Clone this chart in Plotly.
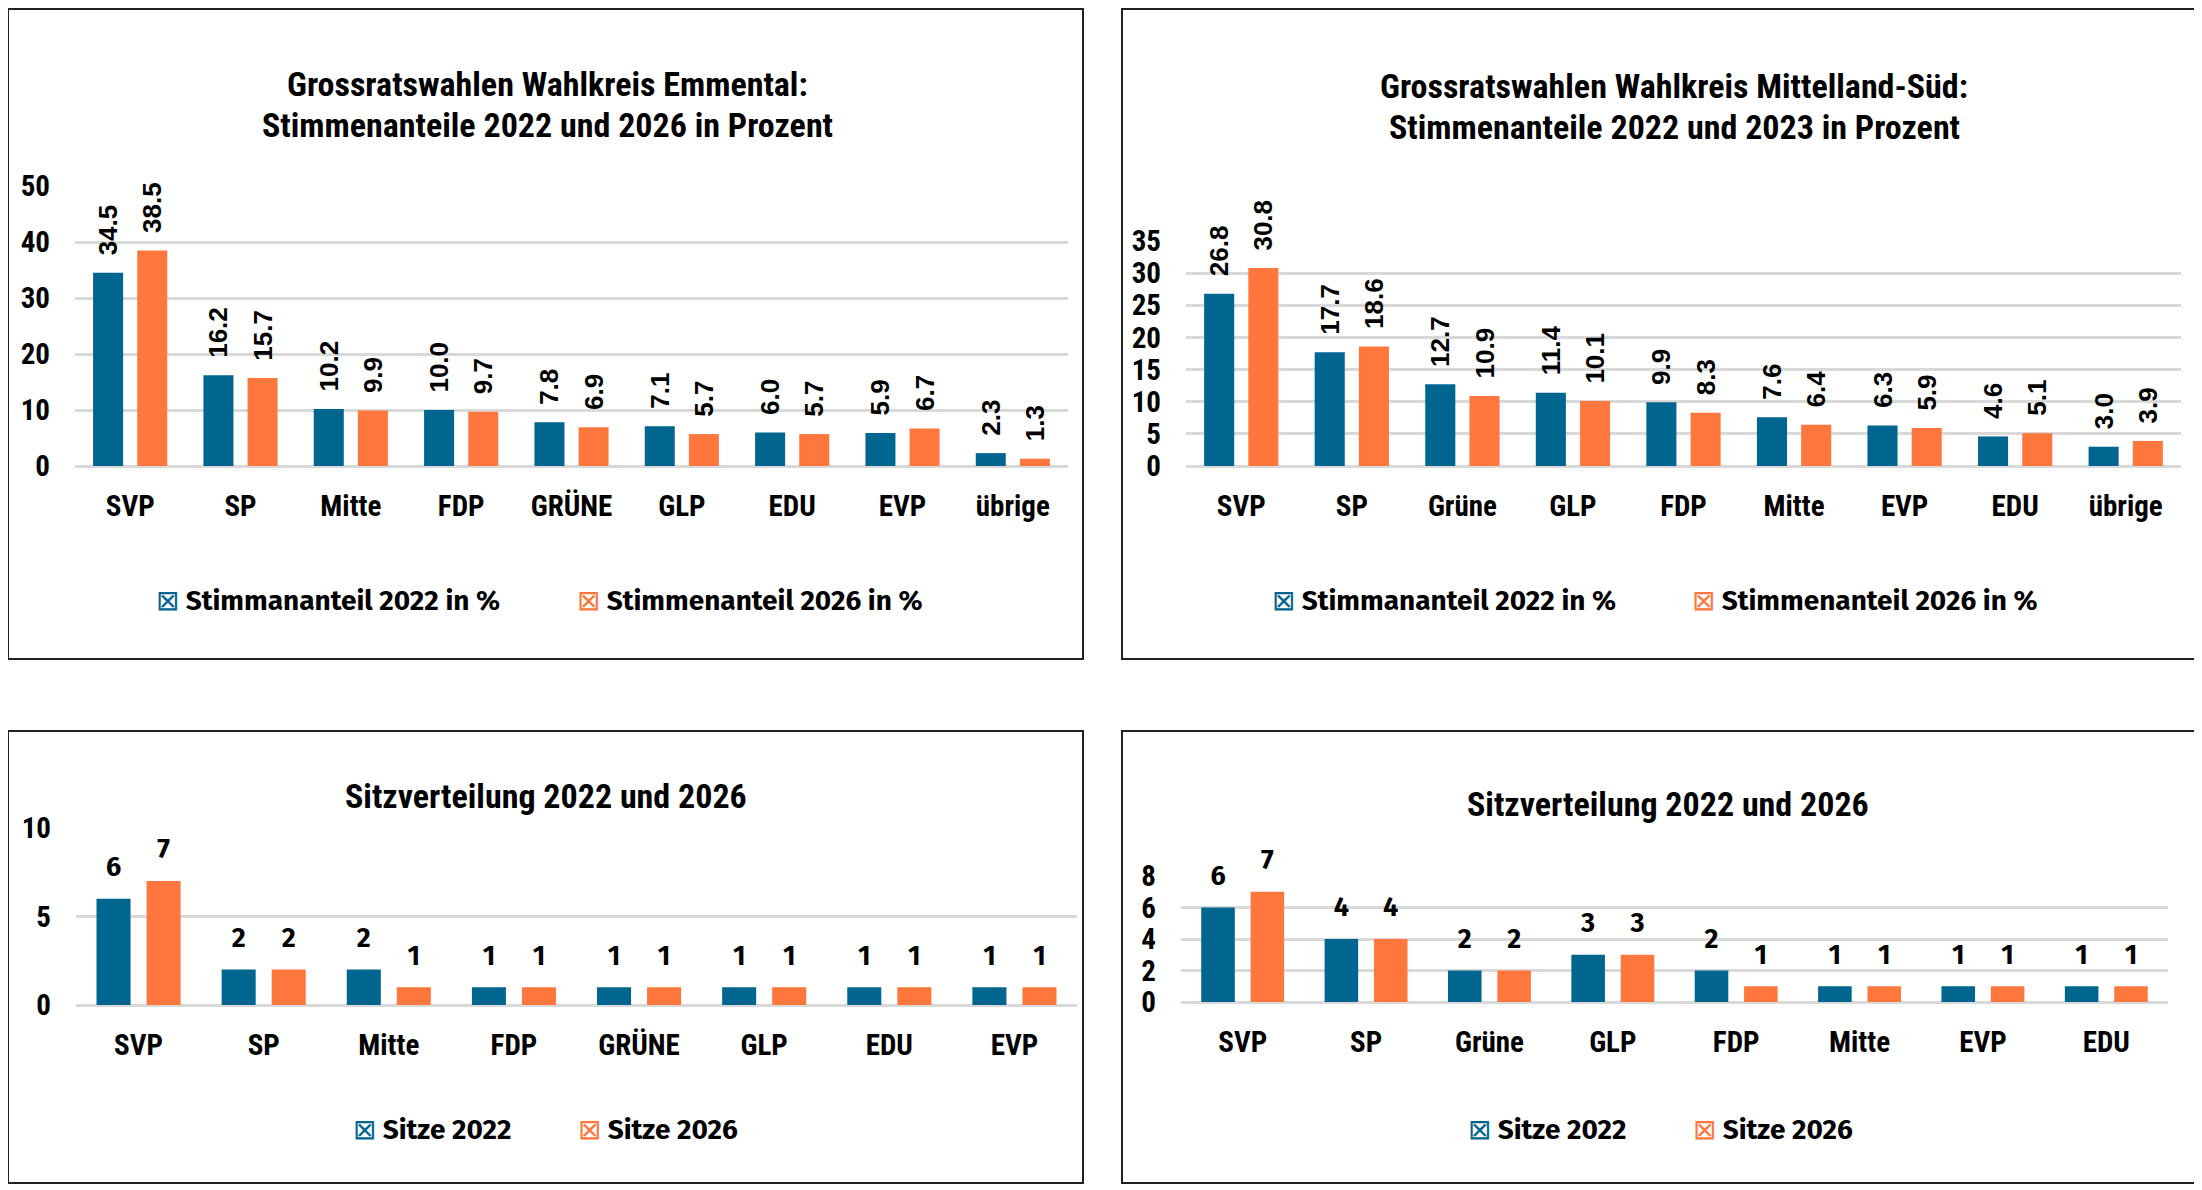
import plotly.graph_objects as go

# Wahlkreis Emmental, Stimmenanteile in %
emmental_parteien = ["SVP", "SP", "Mitte", "FDP", "GRÜNE", "GLP", "EDU", "EVP", "übrige"]
emmental_2022 = [34.5, 16.2, 10.2, 10.0, 7.8, 7.1, 6.0, 5.9, 2.3]
emmental_2026 = [38.5, 15.7, 9.9, 9.7, 6.9, 5.7, 5.7, 6.7, 1.3]

# Wahlkreis Mittelland-Süd, Stimmenanteile in %
ms_parteien = ["SVP", "SP", "Grüne", "GLP", "FDP", "Mitte", "EVP", "EDU", "übrige"]
ms_2022 = [26.8, 17.7, 12.7, 11.4, 9.9, 7.6, 6.3, 4.6, 3.0]
ms_2026 = [30.8, 18.6, 10.9, 10.1, 8.3, 6.4, 5.9, 5.1, 3.9]

# Sitzverteilung Emmental
em_sitz_parteien = ["SVP", "SP", "Mitte", "FDP", "GRÜNE", "GLP", "EDU", "EVP"]
em_sitze_2022 = [6, 2, 2, 1, 1, 1, 1, 1]
em_sitze_2026 = [7, 2, 1, 1, 1, 1, 1, 1]

# Sitzverteilung Mittelland-Süd
ms_sitz_parteien = ["SVP", "SP", "Grüne", "GLP", "FDP", "Mitte", "EVP", "EDU"]
ms_sitze_2022 = [6, 4, 2, 3, 2, 1, 1, 1]
ms_sitze_2026 = [7, 4, 2, 3, 1, 1, 1, 1]

W, H = 2202, 1190
OFF = 8  # page body margin
BLUE = "#00658f"
ORANGE = "#ff773d"
GRID = "#d9d9d9"
NARROW = "Roboto Condensed, Archivo Narrow, sans-serif"
ARIAL = "Liberation Sans, Arial, sans-serif"
LEGEND_FONT = "Fira Sans, Roboto, sans-serif"
SEAT_FONT = "Fira Sans, Roboto, sans-serif"


def px(x):
    return (x - OFF) / W


def py(y):
    return 1 - (y - OFF) / H


fig = go.Figure()


def add_pair(cats, v1, v2, ax, rotated, n1, n2):
    for vals, col, name in [(v1, BLUE, n1), (v2, ORANGE, n2)]:
        bar = dict(
            x=cats, y=vals, name=name,
            marker=dict(color=col, line=dict(width=0)),
            xaxis="x" + ax, yaxis="y" + ax,
            showlegend=False, hoverinfo="skip",
        )
        if rotated:
            bar.update(texttemplate="\u00a0\u00a0%{y:.1f}", textposition="outside",
                       textangle=-90, cliponaxis=False, constraintext="none",
                       textfont=dict(family=ARIAL, size=26, color="black",
                                     weight="bold"))
        fig.add_trace(go.Bar(**bar))
    if not rotated:
        # seat labels: grouped text points sitting above each bar
        for vals, name in [(v1, n1), (v2, n2)]:
            fig.add_trace(go.Scatter(
                x=cats, y=vals, name=name, mode="markers+text",
                text=[str(v) for v in vals], textposition="top center",
                marker=dict(size=24, color="rgba(0,0,0,0)"),
                textfont=dict(family=SEAT_FONT, size=27, color="black",
                              weight="bold"),
                xaxis="x" + ax, yaxis="y" + ax, cliponaxis=False,
                showlegend=False, hoverinfo="skip",
            ))


add_pair(emmental_parteien, emmental_2022, emmental_2026, "", True,
         "Stimmananteil 2022 in %", "Stimmenanteil 2026 in %")
add_pair(ms_parteien, ms_2022, ms_2026, "2", True,
         "Stimmananteil 2022 in %", "Stimmenanteil 2026 in %")
add_pair(em_sitz_parteien, em_sitze_2022, em_sitze_2026, "3", False,
         "Sitze 2022", "Sitze 2026")
add_pair(ms_sitz_parteien, ms_sitze_2022, ms_sitze_2026, "4", False,
         "Sitze 2022", "Sitze 2026")

tickfont = dict(family=NARROW, size=29, color="black", weight="bold")


def xaxis(x0, x1, anchor):
    return dict(domain=[px(x0), px(x1)], anchor=anchor, showgrid=False,
                showline=False, ticks="", tickfont=tickfont, automargin=False,
                ticklabelstandoff=20, fixedrange=True)


def yaxis(y0, y1, rng, dtick, anchor):
    return dict(domain=[py(y0), py(y1)], anchor=anchor, range=rng, dtick=dtick,
                showgrid=True, gridcolor=GRID, gridwidth=3, zeroline=True,
                zerolinecolor=GRID, zerolinewidth=3, showline=False, ticks="",
                tickfont=tickfont, ticklabelstandoff=24, automargin=False,
                fixedrange=True)


fig.update_layout(
    width=W, height=H,
    margin=dict(l=0, r=0, t=0, b=0, autoexpand=False),
    paper_bgcolor="white", plot_bgcolor="white",
    barmode="group", bargap=0.2, bargroupgap=0.32,
    scattermode="group", scattergap=0.2,
    xaxis=xaxis(75, 1068, "y"), yaxis=yaxis(466, 186, [0, 50], 10, "x"),
    xaxis2=xaxis(1186, 2181, "y2"), yaxis2=yaxis(466, 241, [0, 35], 5, "x2"),
    xaxis3=xaxis(76, 1077, "y3"), yaxis3=yaxis(1005, 828, [0, 10], 5, "x3"),
    xaxis4=xaxis(1181, 2168, "y4"), yaxis4=yaxis(1002, 876, [0, 8], 2, "x4"),
)

# panel frames
for x0, y0, x1, y1 in [(8, 9, 1083, 659), (1122, 9, 2195, 659),
                       (8, 731, 1083, 1183), (1122, 731, 2195, 1183)]:
    fig.add_shape(type="rect", xref="paper", yref="paper",
                  x0=px(x0), x1=px(x1), y0=py(y0), y1=py(y1),
                  line=dict(color="#222222", width=2), fillcolor="rgba(0,0,0,0)")

titlefont = dict(family=NARROW, size=34, color="black", weight="bold")
titles = [
    ("Grossratswahlen Wahlkreis Emmental:", 547, 84),
    ("Stimmenanteile 2022 und 2026 in Prozent", 547, 125),
    ("Grossratswahlen Wahlkreis Mittelland-Süd:", 1674, 86),
    ("Stimmenanteile 2022 und 2023 in Prozent", 1674, 127),
    ("Sitzverteilung 2022 und 2026", 546, 796),
    ("Sitzverteilung 2022 und 2026", 1668, 804),
]
for txt, x, y in titles:
    fig.add_annotation(text=txt, xref="paper", yref="paper", x=px(x), y=py(y),
                       xanchor="center", yanchor="middle", showarrow=False,
                       font=titlefont)

legfont = dict(family=LEGEND_FONT, size=28, color="black", weight="bold")
legends = [
    ("Stimmananteil 2022 in %", BLUE, 154, 600),
    ("Stimmenanteil 2026 in %", ORANGE, 575, 600),
    ("Stimmananteil 2022 in %", BLUE, 1270, 600),
    ("Stimmenanteil 2026 in %", ORANGE, 1690, 600),
    ("Sitze 2022", BLUE, 351, 1129),
    ("Sitze 2026", ORANGE, 576, 1129),
    ("Sitze 2022", BLUE, 1466, 1129),
    ("Sitze 2026", ORANGE, 1691, 1129),
]
for txt, col, x, y in legends:
    fig.add_annotation(
        text=f"<span style='color:{col};font-weight:normal'>⊠</span> {txt}",
        xref="paper", yref="paper", x=px(x), y=py(y),
        xanchor="left", yanchor="middle", showarrow=False, font=legfont)

fig.write_html("out.html")
